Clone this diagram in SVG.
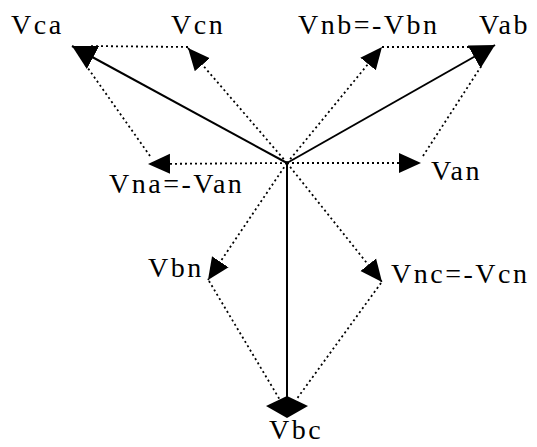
<svg xmlns="http://www.w3.org/2000/svg" width="537" height="447" viewBox="0 0 537 447">
<style>
.lbl{font-family:"Liberation Serif","Times New Roman",serif;font-size:28px;letter-spacing:2.5px;fill:#000}
.solid{stroke:#000;stroke-width:2;fill:none}
.dot{stroke:#000;stroke-width:1.8;stroke-dasharray:2 3;fill:none}
</style>
<defs>
<marker id="ah" markerUnits="userSpaceOnUse" markerWidth="24" markerHeight="22" refX="22" refY="11" orient="auto">
<path d="M0,1 L22,11 L0,21 z" fill="#000"/>
</marker>
<marker id="big" markerUnits="userSpaceOnUse" markerWidth="26" markerHeight="28" refX="24" refY="14" orient="auto">
<path d="M0,1 L24,14 L0,27 z" fill="#000"/>
</marker>
</defs>
<rect width="537" height="447" fill="#fff"/>
<g id="connectors">
<line class="solid" x1="287" y1="163" x2="72" y2="46" marker-end="url(#big)"/>
<line class="solid" x1="287" y1="163" x2="495" y2="45" marker-end="url(#big)"/>
<line class="solid" x1="287" y1="163" x2="287" y2="400"/>
<line class="dot" x1="287" y1="163" x2="188" y2="48" marker-end="url(#ah)"/>
<line class="dot" x1="287" y1="163" x2="382" y2="47" marker-end="url(#ah)"/>
<line class="dot" x1="287" y1="163" x2="421" y2="163" marker-end="url(#ah)"/>
<line class="dot" x1="287" y1="163" x2="148" y2="164" marker-end="url(#ah)"/>
<line class="dot" x1="287" y1="163" x2="208" y2="280" marker-end="url(#ah)"/>
<line class="dot" x1="287" y1="163" x2="382" y2="282" marker-end="url(#ah)"/>
<line class="dot" x1="188" y1="47" x2="88" y2="46"/>
<line class="dot" x1="150" y1="156" x2="85" y2="64"/>
<line class="dot" x1="382" y1="47" x2="478" y2="47"/>
<line class="dot" x1="423" y1="156" x2="482" y2="65"/>
<line class="dot" x1="209" y1="281" x2="280" y2="400"/>
<line class="dot" x1="381" y1="283" x2="296" y2="400"/>
<polygon points="287,396 308,406 287,418 266,406" fill="#000"/>
</g>
<g id="Vca"><text class="lbl" x="11" y="34">Vca</text></g>
<g id="Vcn"><text class="lbl" x="171" y="34">Vcn</text></g>
<g id="Vnb"><text class="lbl" x="298" y="34">Vnb=-Vbn</text></g>
<g id="Vab"><text class="lbl" x="479" y="34">Vab</text></g>
<g id="Van"><text class="lbl" x="431" y="180">Van</text></g>
<g id="Vna"><text class="lbl" x="109" y="193">Vna=-Van</text></g>
<g id="Vbn"><text class="lbl" x="148" y="277">Vbn</text></g>
<g id="Vnc"><text class="lbl" x="391" y="283">Vnc=-Vcn</text></g>
<g id="Vbc"><text class="lbl" x="269" y="439">Vbc</text></g>
</svg>
